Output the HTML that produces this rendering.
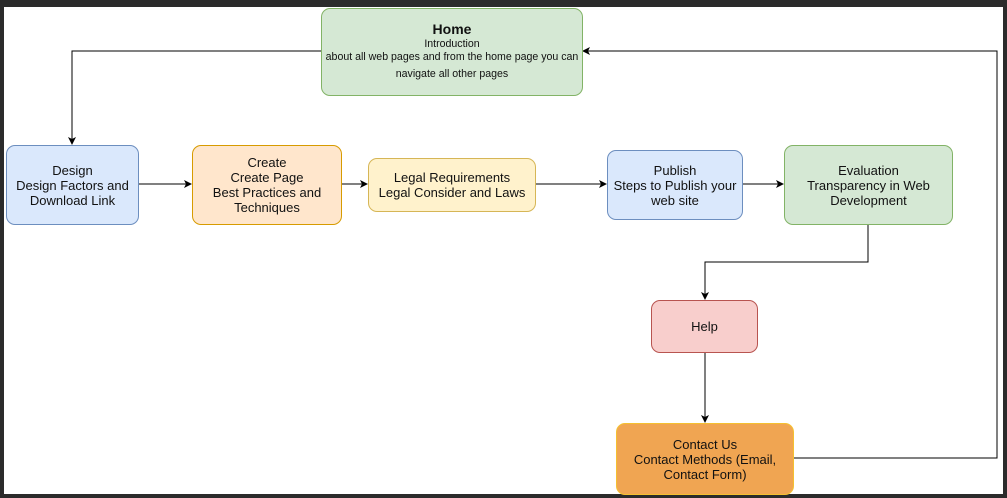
<!DOCTYPE html>
<html><head><style>
body{margin:0;width:1007px;height:498px;background:#2b2b2b;overflow:hidden;font-family:"Liberation Sans",sans-serif;}
#c{position:absolute;left:4px;top:7px;width:999px;height:487px;background:#fff;}
.n{position:absolute;box-sizing:border-box;border:1px solid;border-radius:9px;display:flex;align-items:center;justify-content:center;text-align:center;font-size:13px;line-height:15px;color:#111;white-space:nowrap;}
svg{position:absolute;left:0;top:0}
</style></head><body>
<div id="c"></div>
<svg width="1007" height="498">
<defs><marker id="a" markerWidth="8" markerHeight="8" refX="7" refY="4" orient="auto" markerUnits="userSpaceOnUse"><path d="M0,0 L8,4 L0,8 L2,4z" fill="#000"/></marker></defs>
<g fill="none" stroke="#000" stroke-width="1">
<path d="M321,51 H72 V144" marker-end="url(#a)"/>
<path d="M138,184 H191" marker-end="url(#a)"/>
<path d="M341,184 H367" marker-end="url(#a)"/>
<path d="M535,184 H606" marker-end="url(#a)"/>
<path d="M742,184 H783" marker-end="url(#a)"/>
<path d="M868,224 V262 H705 V299" marker-end="url(#a)"/>
<path d="M705,352 V422" marker-end="url(#a)"/>
<path d="M793,458 H997 V51 H583" marker-end="url(#a)"/>
</g>
</svg>
<div class="n" style="left:321px;top:8px;width:262px;height:88px;background:#d5e8d4;border-color:#82b366;font-size:10.6px;line-height:13px"><div><b style="font-size:14px;line-height:18px">Home</b><br>Introduction<br>about all web pages and from the home page you can<br><span style="line-height:20px">navigate all other pages</span></div></div>
<div class="n" style="left:6px;top:145px;width:133px;height:80px;background:#dae8fc;border-color:#6c8ebf">Design<br>Design Factors and<br>Download Link</div>
<div class="n" style="left:192px;top:145px;width:150px;height:80px;background:#ffe6cc;border-color:#d79b00">Create<br>Create Page<br>Best Practices and<br>Techniques</div>
<div class="n" style="left:368px;top:158px;width:168px;height:54px;background:#fff2cc;border-color:#d6b656">Legal Requirements<br>Legal Consider and Laws</div>
<div class="n" style="left:607px;top:150px;width:136px;height:70px;background:#dae8fc;border-color:#6c8ebf">Publish<br>Steps to Publish your<br>web site</div>
<div class="n" style="left:784px;top:145px;width:169px;height:80px;background:#d5e8d4;border-color:#82b366">Evaluation<br>Transparency in Web<br>Development</div>
<div class="n" style="left:651px;top:300px;width:107px;height:53px;background:#f8cecc;border-color:#b85450">Help</div>
<div class="n" style="left:616px;top:423px;width:178px;height:72px;background:#f0a552;border-color:#f5c030">Contact Us<br>Contact Methods (Email,<br>Contact Form)</div>
</body></html>
